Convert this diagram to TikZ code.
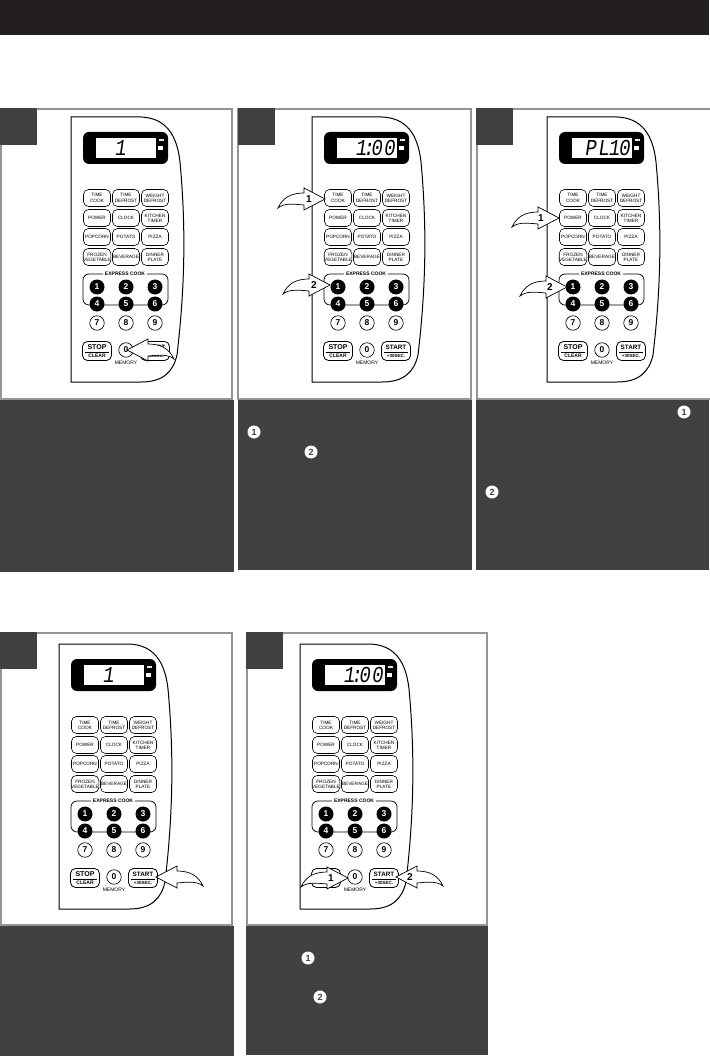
\documentclass[tikz,border=0pt]{standalone}
\usepackage{fontspec}
\usepackage{graphicx}
\setmainfont{Liberation Sans}
\newfontfamily\lcdfont[FakeSlant=0.18]{Liberation Mono}
\definecolor{band}{HTML}{231F20}
\definecolor{panelgray}{HTML}{939598}
\definecolor{darkbox}{HTML}{414042}
\tikzset{
  keybtn/.style={draw=black,line width=0.6pt,rounded corners=5pt,minimum width=27pt,minimum height=17pt,inner sep=0pt,fill=white,align=center,font=\fontsize{4.7}{5.2}\selectfont,text=black},
  bigbtn/.style={draw=black,fill=white,line width=0.8pt,rounded corners=5pt,minimum width=29pt,minimum height=19pt,inner sep=0pt},
  btnline/.style={inner sep=0pt,text=black},
  numon/.style={circle,fill=black,minimum size=15pt,inner sep=0pt,text=white,font=\fontsize{8.5}{9}\selectfont\bfseries},
  numoff/.style={circle,draw=black,fill=white,line width=0.65pt,minimum size=14.5pt,inner sep=0pt,text=black,font=\fontsize{8.5}{9}\selectfont\bfseries},
  smalllabel/.style={inner sep=0pt,font=\fontsize{5}{5.5}\selectfont,text=black},
  framebox/.style={draw=panelgray,line width=2pt,fill=white},
  darkfill/.style={fill=darkbox,draw=none},
  stepnum/.style={circle,fill=white,minimum size=13pt,inner sep=0pt,text=darkbox,font=\fontsize{9}{9}\selectfont\bfseries},
  arrowshape/.style={draw=black,fill=white,line width=0.7pt,line join=miter},
  arrowlabel/.style={inner sep=0pt,font=\fontsize{10}{10}\selectfont\bfseries}
}
% #1 name, #2 x, #3 y, #4 display text, #5 STOP text, #6 CLEAR text
\newcommand{\keypad}[6]{%
\begin{scope}[shift={(#2,#3)}]
  \draw[line width=1pt,fill=white] (0,0) -- (70,0) .. controls (95,1) and (106,18) .. (109,45)
     .. controls (115,110) and (114,170) .. (106,238) .. controls (102,255) and (92,265) .. (70,265) -- (0,265) -- cycle;
  \fill[black,rounded corners=6pt] (12,15) rectangle (97,47);
  \fill[white] (24.5,21) rectangle (84.5,41);
  \node[inner sep=0pt,anchor=east] (#1disp) at (83,31) {\scalebox{1}[1.2]{\lcdfont\fontsize{19}{19}\selectfont #4}};
  \fill[white] (87,29) rectangle (91.5,33);
  \fill[black!10] (88,22) rectangle (92.5,24);
  \foreach \nm/\cx/\cy/\tx in {a/26/81/{TIME\\COOK},b/55/81/{TIME\\DEFROST},c/84/81/{WEIGHT\\DEFROST},
     d/26/101/POWER,e/55/101/CLOCK,f/84/101/{KITCHEN\\TIMER},
     g/26/120/POPCORN,h/55/120/POTATO,i/84/120/PIZZA,
     j/26/140/{FROZEN\\VEGETABLE},k/55/140/BEVERAGE,l/84/140/{DINNER\\PLATE}}
     \node[keybtn] (#1\nm) at (\cx,\cy) {\tx};
  \draw[line width=0.75pt,rounded corners=6pt] (32,157) -- (12,157) -- (12,188) -- (97,188) -- (97,157) -- (76,157);
  \node[smalllabel,font=\fontsize{5}{5.5}\selectfont\bfseries] (#1ex) at (54,157) {EXPRESS COOK};
  \foreach \n/\cx/\cy in {1/26/170,2/55/170,3/84/170,4/26/187,5/55/187,6/84/187}
     \node[numon] (#1n\n) at (\cx,\cy) {\n};
  \foreach \n/\cx/\cy in {7/26/206,8/55/206,9/84/206}
     \node[numoff] (#1n\n) at (\cx,\cy) {\n};
  \node[numoff] (#1n0) at (55,233) {0};
  \node[smalllabel] (#1mem) at (55,245.5) {MEMORY};
  \node[bigbtn] (#1stop) at (26,234) {};
  \node[bigbtn] (#1start) at (84,234) {};
  \node[btnline,font=\fontsize{7}{7}\selectfont\bfseries] (#1stopa) at (26,230) {#5};
  \node[btnline,font=\fontsize{5}{5}\selectfont\bfseries] (#1stopb) at (26,239) {#6};
  \node[btnline,font=\fontsize{6.3}{6.3}\selectfont\bfseries] (#1starta) at (84,230) {START};
  \node[btnline,font=\fontsize{4.5}{4.5}\selectfont\bfseries] (#1startb) at (84,239) {+30SEC.};
  \draw[line width=0.4pt] (14,234.7) -- (38,234.7);
  \draw[line width=0.4pt] (72,234.7) -- (96,234.7);
\end{scope}}
% #1 tip x, #2 tip y, #3 direction (1 = points right, -1 = points left)
\newcommand{\curvedarrow}[3]{%
\draw[arrowshape,shift={(#1,#2)},xscale=#3] (0,0) -- (-21,-11) -- (-21,-6)
   .. controls (-33,-6) and (-42,-2) .. (-47,9)
   .. controls (-41,4) and (-32,5) .. (-21,6) -- (-21,11) -- cycle;}
\begin{document}
\begin{tikzpicture}[x=1pt,y=-1pt]
\useasboundingbox (0,0) rectangle (709,1056);
\fill[white] (0,0) rectangle (709,1056);
\fill[band] (0,0) rectangle (709,35);
% top row frames
\draw[framebox] (1,109) rectangle (232,399);
\draw[framebox] (238,109) rectangle (471,399);
\draw[framebox] (477,109) rectangle (712,399);
\fill[darkfill] (0,108) rectangle (37,145);
\fill[darkfill] (238,108) rectangle (275,145);
\fill[darkfill] (476,108) rectangle (513,145);
\fill[darkfill] (0,400) rectangle (234,572);
\fill[darkfill] (238,400) rectangle (472,570);
\fill[darkfill] (476,400) rectangle (709,570);
% bottom row frames
\draw[framebox] (1,633) rectangle (232,925);
\draw[framebox] (247,633) rectangle (487,925);
\fill[darkfill] (0,632) rectangle (37,669);
\fill[darkfill] (246,632) rectangle (283,669);
\fill[darkfill] (0,926) rectangle (234,1056);
\fill[darkfill] (246,926) rectangle (488,1055);
% keypads
\keypad{p}{71}{117}{1\kern28pt}{STOP}{CLEAR}
\keypad{q}{312}{117}{1\kern-4pt:\kern-3.5pt 0\kern1.5pt 0}{STOP}{CLEAR}
\keypad{r}{547}{117}{P\kern1.5pt L\kern-1pt 1\kern-1pt 0}{STOP}{CLEAR}
\keypad{s}{59}{644}{1\kern28pt}{STOP}{CLEAR}
\keypad{t}{300}{644}{1\kern-4pt:\kern-3.5pt 0\kern1.5pt 0}{}{}
% arrows
\curvedarrow{127}{350}{-1}
\curvedarrow{325}{199}{1}
\node[arrowlabel] (la) at (309,199) {1};
\curvedarrow{330}{285}{1}
\node[arrowlabel] (lb) at (314,285) {2};
\curvedarrow{559}{218}{1}
\node[arrowlabel] (lc) at (541,218) {1};
\curvedarrow{567}{287}{1}
\node[arrowlabel] (ld) at (550,287) {2};
\curvedarrow{156}{877}{-1}
\curvedarrow{348}{878}{1}
\node[arrowlabel] (le) at (331,878) {1};
\curvedarrow{396}{877}{-1}
\node[arrowlabel] (lf) at (410,877) {2};
% step numbers in the dark boxes
\node[stepnum] (c1) at (254,432) {1};
\node[stepnum] (c2) at (311,452) {2};
\node[stepnum] (c3) at (684,412) {1};
\node[stepnum] (c4) at (492,492) {2};
\node[stepnum] (c5) at (308,958) {1};
\node[stepnum] (c6) at (320,997) {2};
\end{tikzpicture}
\end{document}
